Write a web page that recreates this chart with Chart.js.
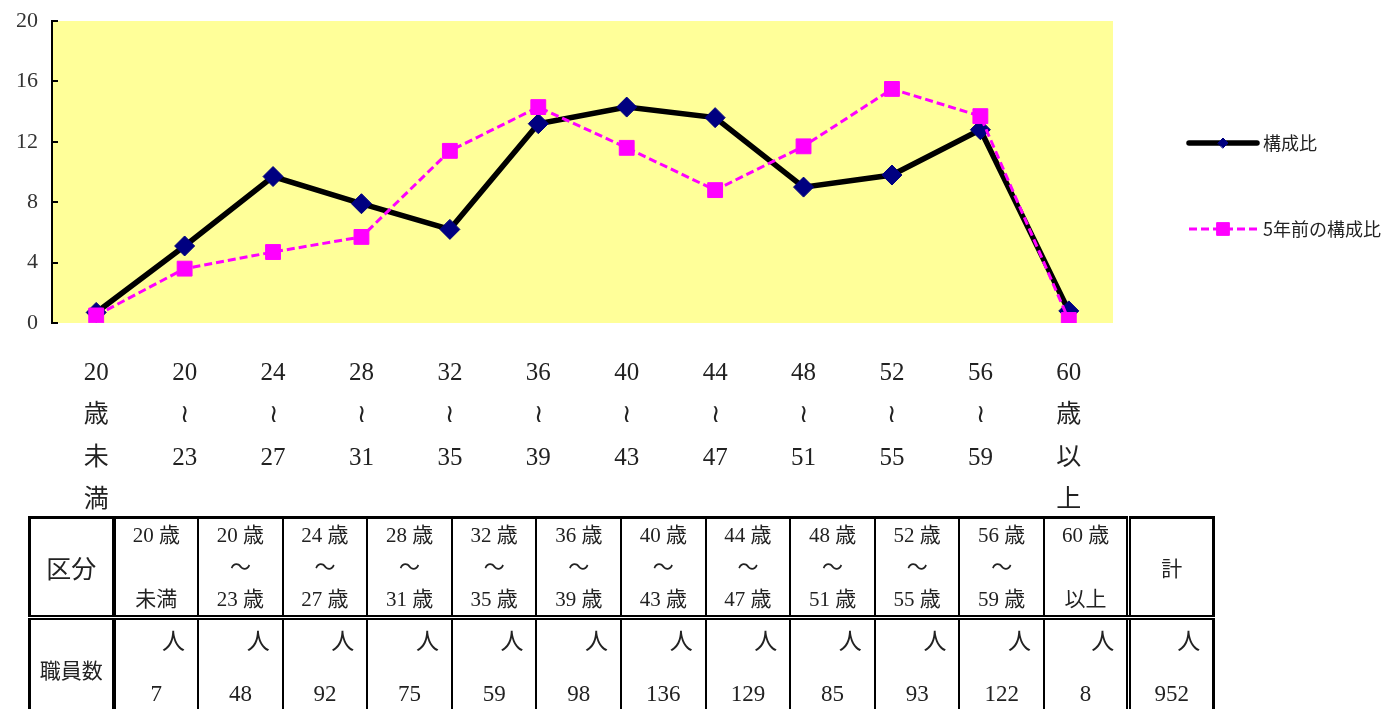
<!DOCTYPE html>
<html>
<head>
<meta charset="utf-8">
<script src="https://cdn.jsdelivr.net/npm/chart.js@4/dist/chart.umd.min.js"></script>
<style>
  body { margin: 0; background: #fff; width: 1392px; height: 709px; overflow: hidden; position: relative; }
  #wrap { position: absolute; left: 0; top: 0; width: 1392px; height: 522px; }
  #tbl {
    position: absolute; left: 28px; top: 516px; width: 1184px;
    border-collapse: collapse; table-layout: fixed;
    font-family: "Liberation Serif", "Noto Sans CJK JP", serif; color: #222;
    border: 3px solid #000;
  }
  #tbl td { border: 2px solid #000; padding: 0; text-align: center; }
  #tbl tr.head td { height: 96px; border-bottom: 5px double #000; font-size: 21px; }
  #tbl tr.head td div { line-height: 32px; height: 32px; }
  #tbl tr.body td { height: 96px; font-size: 23px; vertical-align: top; }
  #tbl tr.body td div { line-height: 48px; height: 48px; }
  #tbl tr.body td div.unit { text-align: right; padding-right: 12px; line-height: 44px; height: 50px; }
  #tbl td.c1 { border-right: 4px solid #000; }
  #tbl td.tot { border-left: 5px double #000; }
</style>
</head>
<body>
<div id="wrap"><canvas id="chart"></canvas></div>
<table id="tbl"></table>
<script>
// ==========================================
// DATA
// ==========================================
const tickLabels = [
  ["20", "歳", "未", "満"], ["20", "≀", "23"], ["24", "≀", "27"], ["28", "≀", "31"],
  ["32", "≀", "35"], ["36", "≀", "39"], ["40", "≀", "43"], ["44", "≀", "47"],
  ["48", "≀", "51"], ["52", "≀", "55"], ["56", "≀", "59"], ["60", "歳", "以", "上"]
];
const ratioNow = [0.7, 5.1, 9.7, 7.9, 6.2, 13.2, 14.3, 13.6, 9.0, 9.8, 12.8, 0.8];
const ratioPrev = [0.5, 3.6, 4.7, 5.7, 11.4, 14.3, 11.6, 8.8, 11.7, 15.5, 13.7, 0.2];
const yTicks = [0, 4, 8, 12, 16, 20];
const seriesNames = ["構成比", "5年前の構成比"];

const tableHeads = [
  ["20 歳", "", "未満"], ["20 歳", "〜", "23 歳"], ["24 歳", "〜", "27 歳"], ["28 歳", "〜", "31 歳"],
  ["32 歳", "〜", "35 歳"], ["36 歳", "〜", "39 歳"], ["40 歳", "〜", "43 歳"], ["44 歳", "〜", "47 歳"],
  ["48 歳", "〜", "51 歳"], ["52 歳", "〜", "55 歳"], ["56 歳", "〜", "59 歳"], ["60 歳", "", "以上"]
];
const staffCounts = [7, 48, 92, 75, 59, 98, 136, 129, 85, 93, 122, 8];
const staffTotal = 952;

// ==========================================
// TABLE
// ==========================================
const tbl = document.getElementById("tbl");
let colgroup = '<colgroup><col style="width:84px">';
tableHeads.forEach(() => colgroup += '<col style="width:84.6px">');
colgroup += '<col style="width:85px"></colgroup>';
let headRow = '<tr class="head"><td class="c1" style="font-size:25px">区分</td>';
tableHeads.forEach(h => {
  headRow += "<td>" + h.map(t => "<div>" + (t || "&nbsp;") + "</div>").join("") + "</td>";
});
headRow += '<td class="tot">計</td></tr>';
let bodyRow = '<tr class="body"><td class="c1" style="vertical-align:middle;font-size:21px">職員数</td>';
staffCounts.forEach(n => {
  bodyRow += '<td><div class="unit">人</div><div>' + n + "</div></td>";
});
bodyRow += '<td class="tot"><div class="unit">人</div><div>' + staffTotal + "</div></td></tr>";
tbl.innerHTML = colgroup + headRow + bodyRow;

// ==========================================
// CHART
// ==========================================
const serif = "'Liberation Serif', 'Noto Sans CJK JP', serif";

const plotBg = {
  id: "plotBg",
  beforeDraw(chart) {
    const { ctx, chartArea: a } = chart;
    ctx.save();
    ctx.fillStyle = "#FFFF99";
    ctx.fillRect(a.left, a.top, a.right - a.left, a.bottom - a.top);
    ctx.restore();
  }
};

// inside tick marks on the value axis
const innerTicks = {
  id: "innerTicks",
  afterDraw(chart) {
    const { ctx, scales: { y } } = chart;
    ctx.save();
    ctx.strokeStyle = "#000";
    ctx.lineWidth = 2;
    yTicks.forEach(v => {
      const py = Math.round(y.getPixelForValue(v));
      ctx.beginPath();
      ctx.moveTo(y.right - 1, py);
      ctx.lineTo(y.right + 6, py);
      ctx.stroke();
    });
    ctx.restore();
  }
};

// legend on the right, drawn from the dataset styles
const sideLegend = {
  id: "sideLegend",
  afterDraw(chart) {
    const { ctx } = chart;
    const rows = [143, 229];
    const markR = [5, 9];
    chart.data.datasets.forEach((ds, i) => {
      const y = rows[i];
      ctx.save();
      ctx.strokeStyle = ds.borderColor;
      ctx.lineWidth = ds.borderWidth;
      ctx.lineCap = ds.borderDash.length ? "butt" : "round";
      ctx.setLineDash(ds.borderDash);
      ctx.beginPath();
      ctx.moveTo(1189, y);
      ctx.lineTo(1257, y);
      ctx.stroke();
      ctx.setLineDash([]);
      ctx.fillStyle = ds.pointBackgroundColor;
      ctx.strokeStyle = ds.pointBorderColor;
      ctx.lineWidth = 1;
      Chart.helpers.drawPoint(ctx, { pointStyle: ds.pointStyle, radius: markR[i], rotation: 0, borderWidth: 1 }, 1223, y);
      ctx.fillStyle = "#222";
      ctx.font = "18px 'Noto Sans CJK JP', sans-serif";
      ctx.textBaseline = "middle";
      ctx.fillText(ds.label, 1263, y);
      ctx.restore();
    });
  }
};

const canvas = document.getElementById("chart");
new Chart(canvas.getContext("2d"), {
  type: "line",
  data: {
    labels: tickLabels,
    datasets: [{
      label: seriesNames[0],
      data: ratioNow,
      borderColor: "#000000",
      borderWidth: 5.5,
      pointStyle: "rectRot",
      pointRadius: 10,
      pointBackgroundColor: "#000080",
      pointBorderColor: "#000080",
      pointBorderWidth: 1,
      borderDash: [],
      tension: 0,
      order: 1
    }, {
      label: seriesNames[1],
      data: ratioPrev,
      borderColor: "#FF00FF",
      borderWidth: 3,
      borderDash: [8, 4],
      pointStyle: "rect",
      pointRadius: 10.5,
      pointBackgroundColor: "#FF00FF",
      pointBorderColor: "#FF00FF",
      pointBorderWidth: 1,
      tension: 0,
      order: 0
    }]
  },
  options: {
    responsive: true,
    maintainAspectRatio: false,
    animation: false,
    layout: { padding: { top: 21, right: 279, bottom: 0, left: 0 } },
    plugins: { legend: { display: false }, tooltip: { enabled: false } },
    scales: {
      x: {
        offset: true,
        grid: { display: false },
        border: { display: false },
        afterFit: s => { s.height = 199; },
        ticks: {
          color: "#222",
          padding: 21,
          maxRotation: 0,
          autoSkip: false,
          font: { family: serif, size: 25, lineHeight: "42.5px" }
        }
      },
      y: {
        min: 0,
        max: 20,
        afterFit: s => { s.width = 52; s.paddingTop = 0; s.paddingBottom = 0; },
        afterBuildTicks: s => { s.ticks = yTicks.map(v => ({ value: v })); },
        grid: { display: false },
        border: { display: true, color: "#000", width: 2 },
        ticks: {
          color: "#333",
          padding: 6,
          font: { family: serif, size: 22 }
        }
      }
    }
  },
  plugins: [plotBg, innerTicks, sideLegend]
});
</script>
</body>
</html>
